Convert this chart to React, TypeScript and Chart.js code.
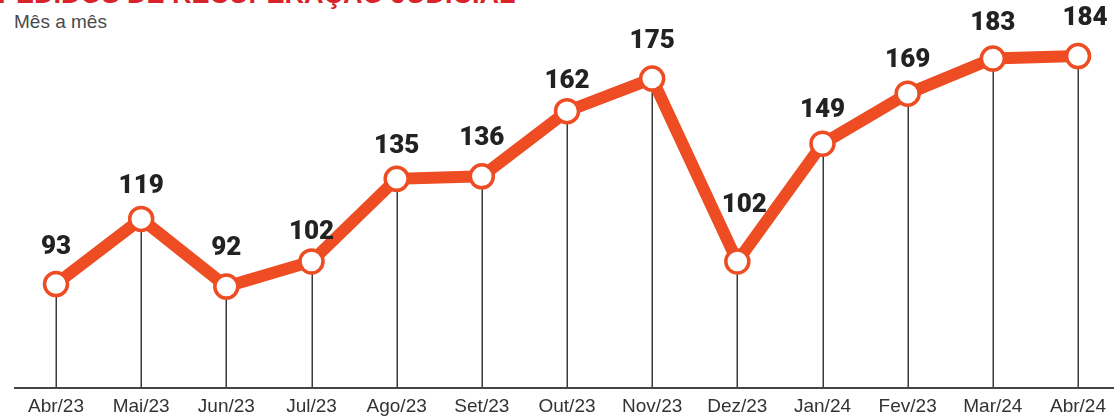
import React, { useEffect, useRef } from "react";
import { Chart, registerables } from "chart.js";

Chart.register(...registerables);

const months = ["Abr/23", "Mai/23", "Jun/23", "Jul/23", "Ago/23", "Set/23", "Out/23", "Nov/23", "Dez/23", "Jan/24", "Fev/23", "Mar/24", "Abr/24"];
const pedidos = [93, 119, 92, 102, 135, 136, 162, 175, 102, 149, 169, 183, 184];
const labelDy = [37, 32, 38, 29, 32, 38, 30, 37, 56, 33, 33, 35, 38];
const labelDx = [0, 0, 0, 0, 0, 0, 0, 0, 7, 0, 0, 0, 7];

const TITLE = "PEDIDOS DE RECUPERAÇÃO JUDICIAL";
const SUBTITLE = "Mês a mês";
const ORANGE = "#ee4c23";

const overlay = {
  id: "overlay",
  beforeDatasetsDraw(chart: any) {
    const ctx = chart.ctx;
    const meta = chart.getDatasetMeta(0);
    const bottom = chart.chartArea.bottom;
    ctx.save();
    ctx.strokeStyle = "#3a3a3a";
    ctx.lineWidth = 1.5;
    meta.data.forEach((pt: any) => {
      ctx.beginPath();
      ctx.moveTo(Math.round(pt.x) + 0.25, pt.y);
      ctx.lineTo(Math.round(pt.x) + 0.25, bottom);
      ctx.stroke();
    });
    ctx.strokeStyle = "#444";
    ctx.lineWidth = 2;
    ctx.beginPath();
    ctx.moveTo(14, bottom);
    ctx.lineTo(chart.width, bottom);
    ctx.stroke();
    ctx.restore();
  },
  afterDatasetsDraw(chart: any) {
    const ctx = chart.ctx;
    const meta = chart.getDatasetMeta(0);
    ctx.save();
    ctx.fillStyle = "#222";
    ctx.font = "900 26px Roboto, 'Liberation Sans', Arial, sans-serif";
    ctx.textAlign = "center";
    ctx.textBaseline = "middle";
    meta.data.forEach((pt: any, i: number) => {
      ctx.fillText(String(pedidos[i]), pt.x + labelDx[i], pt.y - labelDy[i]);
    });
    ctx.restore();
  },
};

export default function App() {
  const ref = useRef<HTMLCanvasElement | null>(null);
  useEffect(() => {
    if (!ref.current) return;
    const chart = new Chart(ref.current, {
      type: "line",
      data: {
        labels: months,
        datasets: [
          {
            data: pedidos,
            borderColor: ORANGE,
            borderWidth: 12,
            pointRadius: 11.5,
            pointBorderWidth: 3.5,
            pointBackgroundColor: "#ffffff",
            pointBorderColor: ORANGE,
            tension: 0,
            clip: false as any,
          },
        ],
      },
      options: {
        animation: false,
        responsive: false,
        maintainAspectRatio: false,
        layout: { padding: { left: 56, right: 36, top: 30, bottom: 0 } },
        plugins: { legend: { display: false }, tooltip: { enabled: false }, title: { display: false } },
        scales: {
          x: {
            offset: false,
            grid: { display: false, drawTicks: false },
            border: { display: false },
            ticks: {
              color: "#333",
              padding: 7,
              font: { family: "'Liberation Sans', Arial, sans-serif", size: 19 },
              maxRotation: 0,
              autoSkip: false,
            },
            afterFit: (scale: any) => {
              scale.height = 29;
            },
          },
          y: { display: false, min: 51.5, max: 194.4 },
        },
      },
      plugins: [overlay],
    });
    return () => chart.destroy();
  }, []);

  return (
    <div style={{ position: "fixed", left: 0, top: 0, width: 1114, height: 417, background: "#fff", overflow: "hidden" }}>
      <div
        style={{
          position: "absolute",
          left: -2,
          top: -19,
          fontFamily: "'Liberation Sans', Arial, sans-serif",
          fontWeight: "bold",
          fontSize: 27,
          lineHeight: "27px",
          color: "#d9232b",
          whiteSpace: "nowrap",
        }}
      >
        {TITLE}
      </div>
      <div
        style={{
          position: "absolute",
          left: 14,
          top: 11,
          fontFamily: "'Liberation Sans', Arial, sans-serif",
          fontSize: 19,
          lineHeight: "22px",
          color: "#4a4a4a",
          whiteSpace: "nowrap",
        }}
      >
        {SUBTITLE}
      </div>
      <canvas ref={ref} width={1114} height={417} style={{ position: "absolute", left: 0, top: 0 }} />
    </div>
  );
}
